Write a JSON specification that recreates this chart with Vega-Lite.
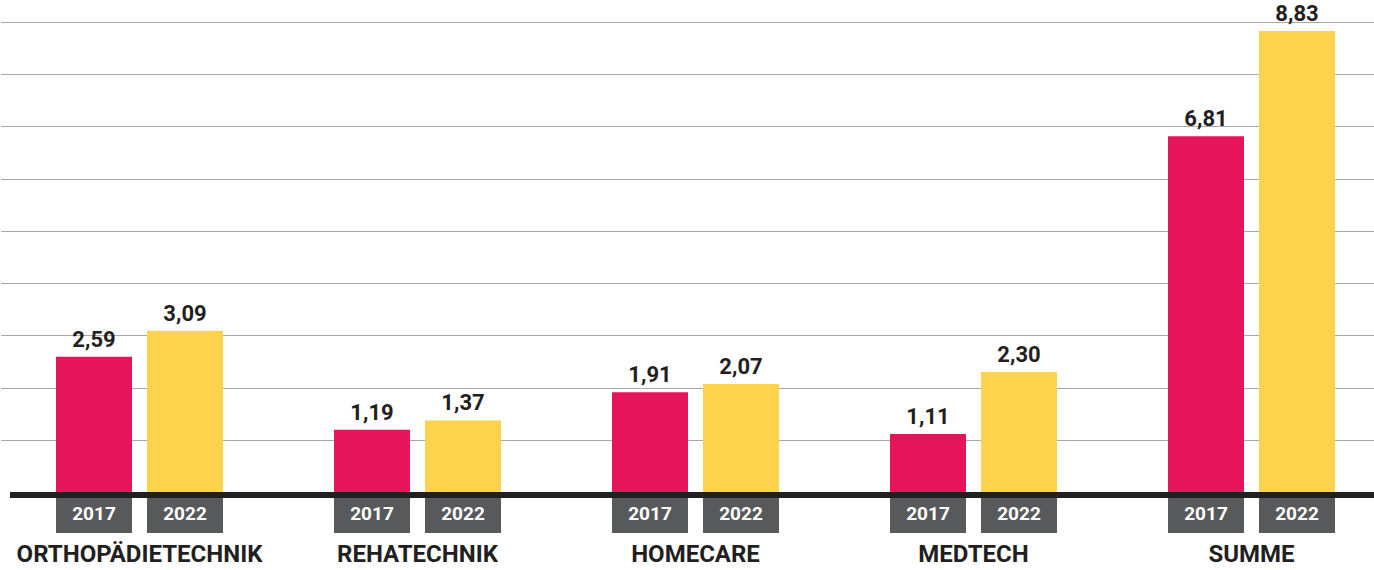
{
  "$schema": "https://vega.github.io/schema/vega-lite/v6.json",
  "width": 1364,
  "height": 470,
  "autosize": "none",
  "padding": {"left": 10, "top": 22, "right": 0, "bottom": 78},
  "background": "white",
  "config": {
    "view": {"stroke": null},
    "font": "Roboto",
    "locale": {"number": {"decimal": ",", "thousands": ".", "grouping": [3], "currency": ["", " €"]}}
  },
  "data": {
    "values": [
      {"bereich": "ORTHOPÄDIETECHNIK", "jahr": "2017", "wert": 2.59},
      {"bereich": "ORTHOPÄDIETECHNIK", "jahr": "2022", "wert": 3.09},
      {"bereich": "REHATECHNIK", "jahr": "2017", "wert": 1.19},
      {"bereich": "REHATECHNIK", "jahr": "2022", "wert": 1.37},
      {"bereich": "HOMECARE", "jahr": "2017", "wert": 1.91},
      {"bereich": "HOMECARE", "jahr": "2022", "wert": 2.07},
      {"bereich": "MEDTECH", "jahr": "2017", "wert": 1.11},
      {"bereich": "MEDTECH", "jahr": "2022", "wert": 2.30},
      {"bereich": "SUMME", "jahr": "2017", "wert": 6.81},
      {"bereich": "SUMME", "jahr": "2022", "wert": 8.83}
    ]
  },
  "encoding": {
    "x": {
      "field": "bereich",
      "type": "nominal",
      "sort": null,
      "axis": null,
      "scale": {"range": [-9.5, 1380.5], "paddingInner": 0, "paddingOuter": 0}
    }
  },
  "layer": [
    {
      "mark": {"type": "bar"},
      "encoding": {
        "xOffset": {"field": "jahr", "type": "nominal", "scale": {"paddingInner": 0.165, "paddingOuter": 0.61}},
        "y": {
          "field": "wert",
          "type": "quantitative",
          "scale": {"domain": [0, 9], "nice": false},
          "axis": {
            "values": [1, 2, 3, 4, 5, 6, 7, 8, 9],
            "labels": false,
            "ticks": false,
            "domain": false,
            "title": null,
            "grid": true,
            "gridColor": "#a7a9ac",
            "gridWidth": 1.2
          }
        },
        "color": {
          "field": "jahr",
          "type": "nominal",
          "scale": {"domain": ["2017", "2022"], "range": ["#e6145a", "#fdd34c"]},
          "legend": null
        }
      }
    },
    {
      "mark": {"type": "bar", "color": "#58595b", "yOffset": 5, "y2Offset": 41},
      "encoding": {
        "xOffset": {"field": "jahr", "type": "nominal"},
        "y": {"datum": 0},
        "y2": {"datum": 0}
      }
    },
    {
      "mark": {"type": "rule", "color": "#231f20", "strokeWidth": 5, "yOffset": 3},
      "encoding": {"y": {"datum": 0}, "x": {"value": 0}, "x2": {"value": 1364}}
    },
    {
      "mark": {"type": "text", "color": "white", "fontWeight": "bold", "fontSize": 19, "baseline": "middle", "dy": 22},
      "encoding": {
        "xOffset": {"field": "jahr", "type": "nominal"},
        "y": {"datum": 0},
        "text": {"field": "jahr", "type": "nominal"}
      }
    },
    {
      "mark": {"type": "text", "color": "#231f20", "fontWeight": "bold", "fontSize": 22, "baseline": "alphabetic", "dy": -10},
      "encoding": {
        "xOffset": {"field": "jahr", "type": "nominal"},
        "y": {"field": "wert", "type": "quantitative"},
        "text": {"field": "wert", "type": "quantitative", "format": ".2f"}
      }
    },
    {
      "transform": [{"filter": "datum.jahr === '2017'"}],
      "mark": {"type": "text", "color": "#231f20", "fontWeight": "bold", "fontSize": 24, "baseline": "alphabetic", "dy": 70},
      "encoding": {
        "y": {"datum": 0},
        "text": {"field": "bereich", "type": "nominal"}
      }
    }
  ]
}
